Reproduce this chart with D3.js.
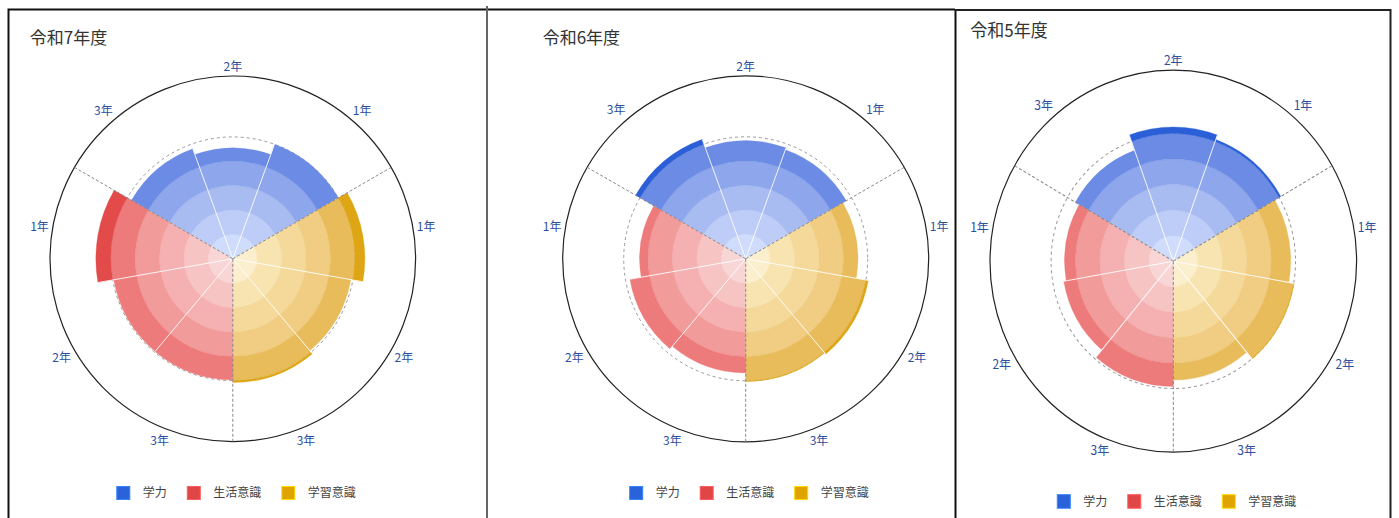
<!DOCTYPE html>
<html><head><meta charset="utf-8">
<script src="https://cdn.jsdelivr.net/npm/d3@7"></script>
<style>
html,body{margin:0;padding:0;background:#fff;}
svg{display:block;font-family:"Noto Sans CJK JP","Noto Sans",sans-serif;}
</style></head>
<body>
<svg id="chart" width="1399" height="518"></svg>
<script>
// ---- data ----
const years = ["令和7年度", "令和6年度", "令和5年度"];
const seriesNames = ["学力", "生活意識", "学習意識"];
const grades = ["1年", "2年", "3年"];
// values per year, in grade order [1年, 2年, 3年]
const gakuryoku = [[50, 45.5, 48], [47.6, 48.4, 52.1], [50.8, 52.7, 46.3]];
const seikatsu  = [[56.2, 49.6, 49.7], [43.5, 48.2, 46.8], [44.5, 45.5, 49.2]];
const gakushu   = [[54.2, 49.2, 50.8], [46, 51, 50.3], [48, 50.2, 46.7]];
const refValue = 50;
const maxValue = 75;
const bandTicks = [0, 10, 20, 30, 40, 50];
// sector order, clockwise starting at -60deg
const sectorOrder = [
  ["学力", "3年"], ["学力", "2年"], ["学力", "1年"],
  ["学習意識", "1年"], ["学習意識", "2年"], ["学習意識", "3年"],
  ["生活意識", "3年"], ["生活意識", "2年"], ["生活意識", "1年"]
];
const valuesBySeries = { "学力": gakuryoku, "生活意識": seikatsu, "学習意識": gakushu };

// ---- styles ----
const palettes = {
  "学力":     ["#d0dcfb", "#bdcdf7", "#a8bcf2", "#8ea6ec", "#6b8be5", "#2a5fd7"],
  "生活意識": ["#f9d6d6", "#f7c4c4", "#f5b1b1", "#f29b9b", "#ed7b7b", "#e34b4b"],
  "学習意識": ["#fbefcd", "#f8e4b1", "#f4d99a", "#f0cd82", "#e8bc5b", "#dea514"]
};
const legendColors = { "学力": "#2962d9", "生活意識": "#e04646", "学習意識": "#e0a400" };

const panels = [
  { cx: 232.8, cy: 258.8, R: 182.8, transform: null, titleY: 44, legendY: 493 },
  { cx: 745.7, cy: 258.8, R: 183, transform: null, titleY: 44, legendY: 493 },
  { cx: 1173.3, cy: 258.8, R: 183.3, transform: "translate(0,-8.5) scale(1,1.042)", titleY: 43.7, legendY: 489.4 }
];

const svg = d3.select("#chart");

// frame lines
const frame = svg.append("g").attr("fill", "none");
frame.append("path").attr("d", "M8.5,518 V9.5 H955").attr("stroke", "#111").attr("stroke-width", 2);
frame.append("line").attr("x1", 487).attr("x2", 487).attr("y1", 6).attr("y2", 518).attr("stroke", "#666").attr("stroke-width", 2);
frame.append("line").attr("x1", 955.5).attr("x2", 955.5).attr("y1", 9).attr("y2", 518).attr("stroke", "#111").attr("stroke-width", 2);
frame.append("path").attr("d", "M955,10 H1390.5 V518").attr("stroke", "#222").attr("stroke-width", 2);

const angle = d3.scaleBand()
  .domain(sectorOrder.map(d => d[0] + d[1]))
  .range([-Math.PI / 3, 2 * Math.PI - Math.PI / 3])
  .paddingInner(0).paddingOuter(0);

years.forEach((year, yi) => {
  const p = panels[yi];
  const g = svg.append("g");
  if (p.transform) g.attr("transform", p.transform);
  const r = d3.scaleLinear().domain([0, maxValue]).range([0, p.R]);
  const root = g.append("g").attr("transform", `translate(${p.cx},${p.cy})`);

  // outer circle
  root.append("circle").attr("r", r(maxValue)).attr("fill", "none").attr("stroke", "#222").attr("stroke-width", 1.2);
  // reference dashed circle (behind sectors)
  root.append("circle").attr("r", r(refValue)).attr("fill", "none")
    .attr("stroke", "#999").attr("stroke-width", 1).attr("stroke-dasharray", "3,3");

  const arc = d3.arc();
  const sectorsG = root.append("g");
  sectorOrder.forEach(([s, gr]) => {
    const key = s + gr;
    const v = valuesBySeries[s][yi][grades.indexOf(gr)];
    const a0 = angle(key), a1 = a0 + angle.bandwidth();
    const pal = palettes[s];
    const pieces = [];
    for (let k = 0; k < bandTicks.length - 1; k++) {
      const lo = bandTicks[k], hi = bandTicks[k + 1];
      if (v > lo) pieces.push({ lo, hi: Math.min(hi, v), color: pal[k] });
    }
    if (v > refValue) pieces.push({ lo: refValue, hi: v, color: pal[5] });
    sectorsG.selectAll(null).data(pieces).join("path")
      .attr("d", d => arc({ innerRadius: r(d.lo), outerRadius: r(d.hi), startAngle: a0, endAngle: a1 }))
      .attr("fill", d => d.color)
      .attr("stroke", d => d.color).attr("stroke-width", 0.3);
  });
  // white separators between sectors
  sectorOrder.forEach(([s, gr], i) => {
    if (i % 3 === 0) return;
    const key = s + gr;
    const v = Math.max(valuesBySeries[s][yi][grades.indexOf(gr)],
      valuesBySeries[sectorOrder[i - 1][0]][yi][grades.indexOf(sectorOrder[i - 1][1])]);
    const a = angle(key);
    root.append("line")
      .attr("x1", 0).attr("y1", 0)
      .attr("x2", r(v) * Math.sin(a)).attr("y2", -r(v) * Math.cos(a))
      .attr("stroke", "#fff").attr("stroke-opacity", 0.85).attr("stroke-width", 1);
  });
  // dashed group boundaries
  [0, 3, 6].forEach(i => {
    const a = angle(sectorOrder[i][0] + sectorOrder[i][1]);
    root.append("line")
      .attr("x1", 0).attr("y1", 0)
      .attr("x2", r(maxValue) * Math.sin(a)).attr("y2", -r(maxValue) * Math.cos(a))
      .attr("stroke", "#888").attr("stroke-width", 1).attr("stroke-dasharray", "3,2");
  });

  // angular labels
  sectorOrder.forEach(([s, gr]) => {
    const a = angle(s + gr) + angle.bandwidth() / 2;
    const sn = Math.sin(a), cs = Math.cos(a);
    const rr = r(maxValue) + 4;
    let anchor = Math.abs(sn) < 0.1 ? "middle" : (sn > 0 ? "start" : "end");
    let dy = cs > 0.3 ? "-0.1em" : (cs < -0.3 ? "0.85em" : "0.35em");
    root.append("text")
      .attr("x", rr * sn).attr("y", -rr * cs)
      .attr("dy", dy)
      .attr("text-anchor", anchor)
      .attr("font-size", 12).attr("fill", "#2c4f9e")
      .text(gr);
  });

  // title
  g.append("text").attr("x", p.cx - 203).attr("y", p.titleY)
    .attr("font-size", 17).attr("fill", "#333").text(year);

  // legend
  const offsets = [0, 70.5, 165];
  const lg = g.append("g").attr("transform", `translate(${p.cx - 116},${p.legendY})`);
  seriesNames.forEach((s, i) => {
    lg.append("rect").attr("x", offsets[i]).attr("y", -6.5).attr("width", 13).attr("height", 13)
      .attr("fill", legendColors[s]).attr("stroke", d3.color(legendColors[s]).brighter(0.8)).attr("stroke-width", 1);
    lg.append("text").attr("x", offsets[i] + 26).attr("y", 0).attr("dy", "0.35em")
      .attr("font-size", 12).attr("fill", "#444").text(s);
  });
});
</script>
</body></html>
